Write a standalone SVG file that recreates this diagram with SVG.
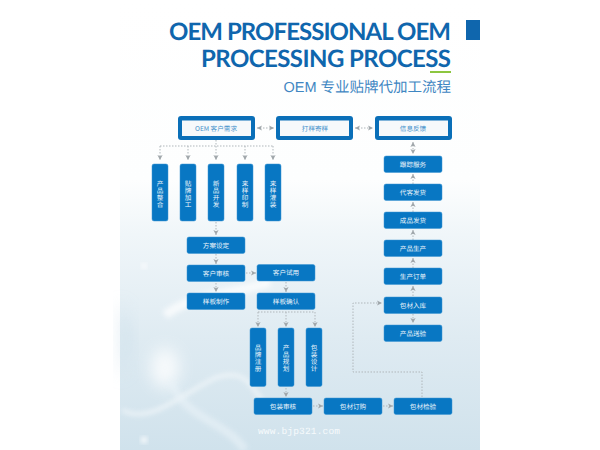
<svg xmlns="http://www.w3.org/2000/svg" width="600" height="450" viewBox="0 0 600 450">
<defs>
<linearGradient id="bg" x1="0" y1="0" x2="0" y2="1"><stop offset="0" stop-color="#ffffff"/><stop offset="0.4" stop-color="#fdfefe"/><stop offset="0.52" stop-color="#f0f6f9"/><stop offset="0.75" stop-color="#dfebf2"/><stop offset="1" stop-color="#d0e2ec"/></linearGradient>
<filter id="bl" x="-30%" y="-30%" width="160%" height="160%"><feGaussianBlur stdDeviation="2.500"/></filter>
<filter id="bl2" x="-60%" y="-60%" width="220%" height="220%"><feGaussianBlur stdDeviation="8"/></filter>
<marker id="a" markerWidth="6" markerHeight="6" refX="5" refY="3" orient="auto" markerUnits="userSpaceOnUse"><path d="M0 .4L5 3L0 5.6L1.2 3Z" fill="#9fa6aa"/></marker>
<marker id="s" markerWidth="6" markerHeight="6" refX="0" refY="3" orient="auto" markerUnits="userSpaceOnUse"><path d="M5 .4L0 3L5 5.6L3.8 3Z" fill="#9fa6aa"/></marker>
</defs>
<style>
text{text-rendering:geometricPrecision}
.b{fill:#0877c3;stroke:#3f97d2;stroke-width:.5}
.h{fill:#0a6fb8}
.i{fill:#f6f9fb}
.t{font-family:"Noto Sans CJK SC","Liberation Sans",sans-serif;font-size:6.6px;fill:#eef6fb;text-anchor:middle}
.o{fill:#3f8fca}
.c{fill:none;stroke:#b0b7bb;stroke-width:1;stroke-dasharray:1.5 1.5}
.ti{font-family:Lato,"Liberation Sans",sans-serif;font-weight:700;font-size:24px;fill:#0f66ad;text-anchor:start}
</style>
<rect width="600" height="450" fill="#fff"/>
<rect x="120" width="360" height="450" fill="url(#bg)"/>
<g id="backdrop">
<path d="M120 300C140 340 130 350 120 380Z" fill="#c6dbe8" opacity=".5" filter="url(#bl2)"/>
<path d="M165 315C200 290 235 295 270 282" fill="none" stroke="#ffffff" stroke-width="9" opacity=".7" filter="url(#bl)"/>
<ellipse cx="165" cy="368" rx="14" ry="20" fill="#ffffff" opacity=".8" filter="url(#bl2)"/>
<path d="M122 410C150 425 180 395 215 378C245 368 250 385 262 400" fill="none" stroke="#ffffff" stroke-width="3" opacity=".7" filter="url(#bl)"/>
<path d="M170 380C185 420 225 420 245 450" fill="none" stroke="#eaf3f8" stroke-width="8" opacity=".6" filter="url(#bl)"/>
<circle cx="144" cy="266" r="2.500" fill="#fff" filter="url(#bl)"/>
<circle cx="144" cy="440" r="3" fill="#fff" filter="url(#bl)"/>
</g>
<rect x="466" y="20" width="14" height="20" fill="#0f66ad"/>
<g id="title">
<text class="ti" x="169" y="40" textLength="282" lengthAdjust="spacing">OEM PROFESSIONAL OEM</text>
<text class="ti" x="201" y="66.500" textLength="250" lengthAdjust="spacing">PROCESSING PROCESS</text>
<rect x="430" y="71" width="21" height="2" fill="#8cc63f"/>
<text x="451" y="92" font-family="'Liberation Sans','Noto Sans CJK SC',sans-serif" font-size="14.500" fill="#3f86c2" text-anchor="end">OEM 专业贴牌代加工流程</text>
</g>
<g id="connectors">
<path class="c" d="M216 140V146M160 146H273" />
<path class="c" marker-end="url(#a)" d="M160 146V160"/>
<path class="c" marker-end="url(#a)" d="M188 146V160"/>
<path class="c" marker-end="url(#a)" d="M216 146V160"/>
<path class="c" marker-end="url(#a)" d="M245 146V160"/>
<path class="c" marker-end="url(#a)" d="M273 146V160"/>
<path class="c" marker-start="url(#s)" marker-end="url(#a)" d="M257 128H274"/>
<path class="c" marker-start="url(#s)" marker-end="url(#a)" d="M355 128H373"/>
<path class="c" marker-start="url(#s)" marker-end="url(#a)" d="M413 142V154" />
<path class="c" marker-end="url(#a)" d="M413 184V174"/>
<path class="c" marker-end="url(#a)" d="M413 212V202"/>
<path class="c" marker-end="url(#a)" d="M413 240V230"/>
<path class="c" marker-end="url(#a)" d="M413 268V258"/>
<path class="c" marker-end="url(#a)" d="M413 296V286"/>
<path class="c" marker-end="url(#a)" d="M413 314V323"/>
<path class="c" marker-end="url(#a)" d="M216 222V235"/>
<path class="c" marker-end="url(#a)" d="M216 254V264"/>
<path class="c" marker-end="url(#a)" d="M216 283V292"/>
<path class="c" marker-end="url(#a)" d="M246 273H256"/>
<path class="c" marker-end="url(#a)" d="M286 282V292"/>
<path class="c" d="M258 312H315"/>
<path class="c" marker-end="url(#a)" d="M258 312V327"/>
<path class="c" marker-end="url(#a)" d="M286 312V327"/>
<path class="c" marker-end="url(#a)" d="M315 312V327"/>
<path class="c" marker-end="url(#a)" d="M286 388V397"/>
<path class="c" marker-end="url(#a)" d="M313 406H323"/>
<path class="c" marker-end="url(#a)" d="M383 406H393"/>
<path class="c" marker-end="url(#a)" d="M422 397V372H353V303H382"/>
</g>
<g id="n1"><rect class="h" x="178" y="116" width="77" height="24" rx="3"/><rect class="i" x="182" y="120.500" width="69" height="15.500"/><text class="t o" x="216" y="131">OEM 客户需求</text></g>
<g id="n2"><rect class="h" x="276" y="116" width="77" height="24" rx="3"/><rect class="i" x="280" y="120.500" width="69" height="15.500"/><text class="t o" x="315" y="131">打样寄样</text></g>
<g id="n3"><rect class="h" x="375" y="116" width="77" height="24" rx="3"/><rect class="i" x="379" y="120.500" width="69" height="15.500"/><text class="t o" x="413" y="131">信息反馈</text></g>
<g id="v1"><rect class="b" x="152" y="164" width="16" height="57" rx="2"/><text class="t" x="160 160 160 160" y="186 193 200 207">产品整合</text></g>
<g id="v2"><rect class="b" x="180" y="164" width="16" height="57" rx="2"/><text class="t" x="188 188 188 188" y="186 193 200 207">贴牌加工</text></g>
<g id="v3"><rect class="b" x="208" y="164" width="16" height="57" rx="2"/><text class="t" x="216 216 216 216" y="186 193 200 207">新品开发</text></g>
<g id="v4"><rect class="b" x="237" y="164" width="16" height="57" rx="2"/><text class="t" x="245 245 245 245" y="186 193 200 207">来样印制</text></g>
<g id="v5"><rect class="b" x="265" y="164" width="16" height="57" rx="2"/><text class="t" x="273 273 273 273" y="186 193 200 207">来样灌装</text></g>
<g id="r1"><rect class="b" x="384" y="156" width="58" height="16.500" rx="2"/><text class="t" x="413" y="167">跟踪服务</text></g>
<g id="r2"><rect class="b" x="384" y="184" width="58" height="16.500" rx="2"/><text class="t" x="413" y="195">代客发货</text></g>
<g id="r3"><rect class="b" x="384" y="212" width="58" height="16.500" rx="2"/><text class="t" x="413" y="223">成品发货</text></g>
<g id="r4"><rect class="b" x="384" y="240" width="58" height="16.500" rx="2"/><text class="t" x="413" y="251">产品生产</text></g>
<g id="r5"><rect class="b" x="384" y="268" width="58" height="16.500" rx="2"/><text class="t" x="413" y="279">生产订单</text></g>
<g id="r6"><rect class="b" x="384" y="297" width="58" height="16.500" rx="2"/><text class="t" x="413" y="308">包材入库</text></g>
<g id="r7"><rect class="b" x="384" y="325" width="58" height="16.500" rx="2"/><text class="t" x="413" y="336">产品送验</text></g>
<g id="m1"><rect class="b" x="187" y="237" width="58" height="16.500" rx="2"/><text class="t" x="216" y="248">方案设定</text></g>
<g id="m2"><rect class="b" x="187" y="265" width="58" height="16.500" rx="2"/><text class="t" x="216" y="276">客户审核</text></g>
<g id="m3"><rect class="b" x="187" y="293" width="58" height="16.500" rx="2"/><text class="t" x="216" y="304">样板制作</text></g>
<g id="m4"><rect class="b" x="257" y="264.500" width="58" height="16.500" rx="2"/><text class="t" x="286" y="275">客户试用</text></g>
<g id="m5"><rect class="b" x="257" y="293" width="58" height="16.500" rx="2"/><text class="t" x="286" y="304">样板确认</text></g>
<g id="p1"><rect class="b" x="250" y="328" width="16" height="58.500" rx="2"/><text class="t" x="258 258 258 258" y="350 357 364 371">品牌注册</text></g>
<g id="p2"><rect class="b" x="278" y="328" width="16" height="58.500" rx="2"/><text class="t" x="286 286 286 286" y="350 357 364 371">产品规划</text></g>
<g id="p3"><rect class="b" x="306" y="328" width="16" height="58.500" rx="2"/><text class="t" x="314 314 314 314" y="350 357 364 371">包装设计</text></g>
<g id="q1"><rect class="b" x="254" y="398" width="58" height="16.500" rx="2"/><text class="t" x="283" y="409">包装审核</text></g>
<g id="q2"><rect class="b" x="324" y="398" width="58" height="16.500" rx="2"/><text class="t" x="353" y="409">包材订购</text></g>
<g id="q3"><rect class="b" x="394" y="398" width="58" height="16.500" rx="2"/><text class="t" x="423" y="409">包材检验</text></g>
<text x="258" y="433.500" font-family="'Liberation Mono',monospace" font-size="9.500" textLength="82" fill="#f6fafc">www.bjp321.com</text>
</svg>
